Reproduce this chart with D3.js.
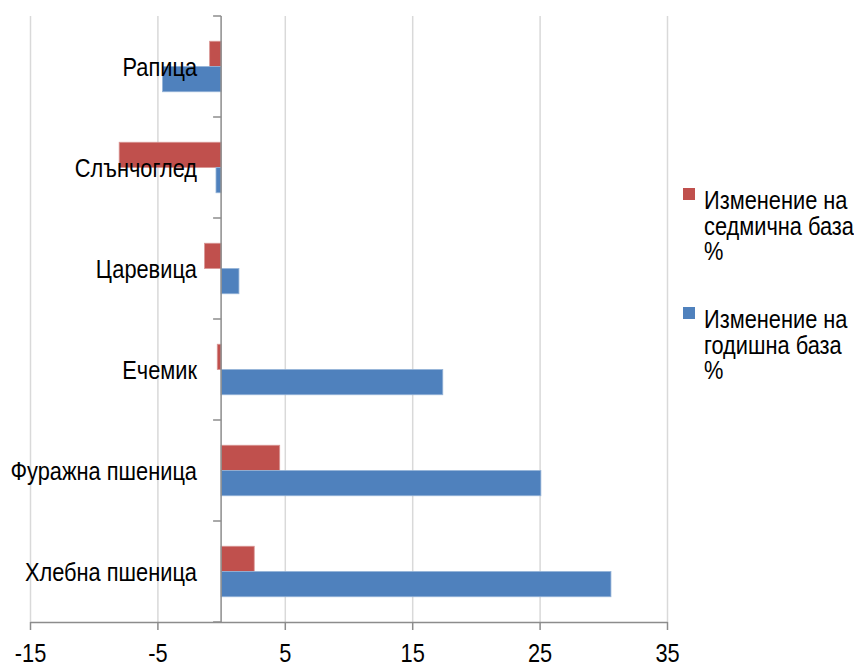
<!DOCTYPE html>
<html>
<head>
<meta charset="utf-8">
<script src="https://cdn.jsdelivr.net/npm/d3@7"></script>
<style>
  body { margin: 0; background: #fff; }
  text { font-family: "Liberation Sans", Arial, sans-serif; fill: #000; }
</style>
</head>
<body>
<div id="chart"></div>
<script>
var categories = ["Рапица", "Слънчоглед", "Царевица", "Ечемик", "Фуражна пшеница", "Хлебна пшеница"];
var seriesNames = ["Изменение на седмична база %", "Изменение на годишна база %"];
var weekly = [-0.9, -8.0, -1.3, -0.3, 4.6, 2.6];
var yearly = [-4.6, -0.4, 1.4, 17.4, 25.1, 30.6];
var xTicks = [-15, -5, 5, 15, 25, 35];
var legendLines = [["Изменение на", "седмична база", "%"], ["Изменение на", "годишна база", "%"]];
var colors = ["#C0504D", "#4F81BD"];
var strokes = ["#d99694", "#95b3d7"];

var w = 854, h = 666;
var plot = {left: 30, right: 667, top: 16, bottom: 622};
var fontSize = 25.5, squash = 0.855;

var svg = d3.select("#chart")
            .append("svg")
            .attr("width", w)
            .attr("height", h);

var rows = categories.map(function(c, i) {
	return {cat: c, vals: [weekly[i], yearly[i]]};
});

var xScale = d3.scaleLinear()
               .domain([-15, 35])
               .range([plot.left, plot.right]);

var y0 = d3.scaleBand()
           .domain(categories)
           .range([plot.top, plot.bottom]);

var y1 = d3.scaleBand()
           .domain([0, 1])
           .range([0, y0.bandwidth()])
           .paddingOuter(1);

// gridlines
svg.append("g")
   .attr("transform", "translate(0," + plot.bottom + ")")
   .call(d3.axisBottom(xScale).tickValues(xTicks).tickSize(-(plot.bottom - plot.top)).tickFormat(""))
   .call(g => g.select(".domain").remove())
   .call(g => g.selectAll("line").attr("stroke", "#d9d9d9").attr("stroke-width", 1.5));

// bars
var groups = svg.selectAll("g.cat")
   .data(rows)
   .enter()
   .append("g")
   .attr("class", "cat")
   .attr("transform", d => "translate(0," + y0(d.cat) + ")");

groups.selectAll("rect")
   .data(d => d.vals.map((v, j) => ({v: v, j: j})))
   .enter()
   .append("rect")
   .attr("x", d => xScale(Math.min(0, d.v)))
   .attr("y", d => y1(d.j))
   .attr("width", d => Math.abs(xScale(d.v) - xScale(0)))
   .attr("height", y1.bandwidth())
   .attr("fill", d => colors[d.j])
   .attr("stroke", d => strokes[d.j])
   .attr("stroke-width", 0.8);

// x axis
var xAxis = svg.append("g")
   .attr("transform", "translate(0," + plot.bottom + ")")
   .call(d3.axisBottom(xScale).tickValues(xTicks).tickSize(8).tickSizeOuter(0).tickPadding(0).tickFormat(d => String(d)));
xAxis.select(".domain").attr("stroke", "#8c8c8c").attr("stroke-width", 1.5);
xAxis.selectAll(".tick line").attr("stroke", "#8c8c8c").attr("stroke-width", 1.5);
xAxis.selectAll(".tick text")
   .attr("y", 0).attr("dy", null)
   .attr("font-size", fontSize)
   .attr("fill", "#000")
   .attr("transform", "translate(0,40) scale(" + squash + ",1)");

// category (zero) axis
var boundaries = categories.map(c => y0(c)).concat([plot.bottom]);
svg.append("line")
   .attr("x1", xScale(0)).attr("x2", xScale(0))
   .attr("y1", plot.top).attr("y2", plot.bottom)
   .attr("stroke", "#8c8c8c").attr("stroke-width", 1.5);
svg.selectAll("line.ytick")
   .data(boundaries)
   .enter()
   .append("line")
   .attr("class", "ytick")
   .attr("x1", xScale(0) - 8).attr("x2", xScale(0))
   .attr("y1", d => d).attr("y2", d => d)
   .attr("stroke", "#8c8c8c").attr("stroke-width", 1.5);

// category labels
svg.selectAll("text.cat")
   .data(categories)
   .enter()
   .append("text")
   .attr("class", "cat")
   .attr("text-anchor", "end")
   .attr("font-size", fontSize)
   .attr("transform", d => "translate(197," + (y0(d) + y0.bandwidth() / 2 + 9.5) + ") scale(" + squash + ",1)")
   .text(d => d);

// legend
var legend = svg.selectAll("g.legend")
   .data(seriesNames)
   .enter()
   .append("g")
   .attr("class", "legend")
   .attr("transform", (d, i) => "translate(683," + (209 + i * 119) + ")");

legend.append("rect")
   .attr("x", 0).attr("y", -21)
   .attr("width", 12).attr("height", 12)
   .attr("fill", (d, i) => colors[i]);

legend.each(function(d, i) {
	var g = d3.select(this);
	legendLines[i].forEach(function(line, k) {
		g.append("text")
		 .attr("font-size", fontSize)
		 .attr("transform", "translate(21," + (k * 25.5) + ") scale(" + squash + ",1)")
		 .text(line);
	});
});
</script>
</body>
</html>
